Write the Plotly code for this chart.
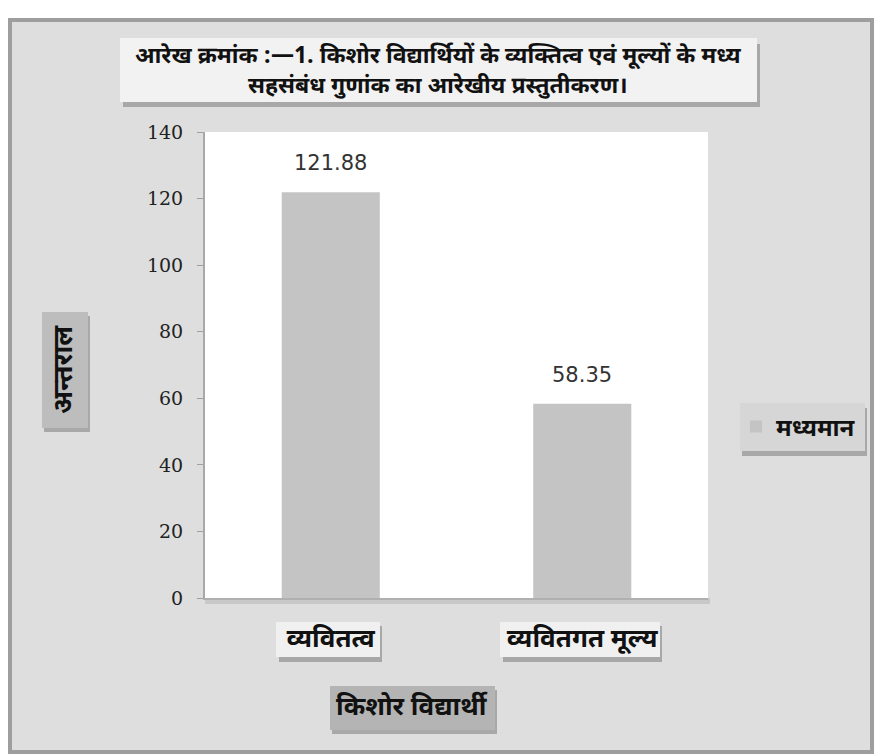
import plotly.graph_objects as go

categories = ["व्यवितत्व", "व्यवितगत मूल्य"]
values = [121.88, 58.35]
value_labels = ["121.88", "58.35"]
series_name = "मध्यमान"
title_text = "आरेख क्रमांक :—1. किशोर विद्यार्थियों के व्यक्तित्व एवं मूल्यों के मध्य<br>सहसंबंध गुणांक का आरेखीय प्रस्तुतीकरण।"
y_title = "अन्तराल"
x_title = "किशोर विद्यार्थी"
y_ticks = [0, 20, 40, 60, 80, 100, 120, 140]

W, H = 874, 755
L, R, T, B = 205, 708, 132, 598
DEV = "Noto Sans Devanagari, Noto Sans, Lato, sans-serif"


def px(x):
    return (x - L) / (R - L)


def py(y):
    return (B - y) / (B - T)


def rect(x0, y0, x1, y1, fill, line=None, lw=0):
    return dict(type="rect", xref="paper", yref="paper", layer="below",
                x0=px(x0), x1=px(x1), y0=py(y1), y1=py(y0),
                fillcolor=fill, line=dict(color=line or fill, width=lw))


fig = go.Figure()
fig.add_trace(go.Bar(x=categories, y=values, name=series_name,
                     marker=dict(color="#c4c4c4", line=dict(width=0)),
                     showlegend=True))

shapes = [
    rect(10, 20, 872, 752, "#dedede", "#9e9e9e", 4),
    rect(L, B, R + 2, B + 6, "#c8c8c8"),
    rect(L, T, R, B, "#ffffff"),
    # title box shadow + box
    rect(123, 44, 760, 107, "#a8a8a8"),
    rect(120, 38, 757, 102, "#f2f2f2"),
    # y-title box shadow + box
    rect(44, 316, 90, 432, "#a8a8a8"),
    rect(42, 312, 88, 428, "#bdbdbd"),
    # legend shadow + box
    rect(742, 408, 867, 456, "#a8a8a8"),
    rect(740, 403, 865, 451, "#d6d6d6"),
    # x tick label boxes
    rect(279, 626, 382, 662, "#a8a8a8"),
    rect(276, 622, 380, 657, "#f0f0f0"),
    rect(503, 626, 662, 662, "#a8a8a8"),
    rect(500, 622, 660, 657, "#f0f0f0"),
    # x title box
    rect(332, 690, 497, 734, "#a8a8a8"),
    rect(330, 686, 495, 730, "#b4b4b4"),
]

annotations = [
    dict(text=title_text, xref="paper", yref="paper", x=px(438), y=py(72),
         showarrow=False, font=dict(family=DEV, size=23, color="#111111", weight="bold"),
         align="center", xanchor="center", yanchor="middle"),
    dict(text=y_title, xref="paper", yref="paper", x=px(65), y=py(370),
         showarrow=False, textangle=-90,
         font=dict(family=DEV, size=27, color="#111111", weight="bold"),
         xanchor="center", yanchor="middle"),
    dict(text=x_title, xref="paper", yref="paper", x=px(412), y=py(708),
         showarrow=False, font=dict(family=DEV, size=26, color="#111111", weight="bold"),
         xanchor="center", yanchor="middle"),
]
for c, v, t in zip(categories, values, value_labels):
    annotations.append(dict(text=t, x=c, y=v, xref="x", yref="y", showarrow=False,
                            yshift=29, font=dict(family="DejaVu Sans", size=21, color="#333333"),
                            xanchor="center", yanchor="middle"))

fig.update_layout(
    width=W, height=H,
    margin=dict(l=L, r=W - R, t=T, b=H - B, pad=0),
    paper_bgcolor="#ffffff",
    plot_bgcolor="rgba(0,0,0,0)",
    bargap=0.61,
    shapes=shapes,
    annotations=annotations,
    showlegend=True,
    legend=dict(x=px(736), y=py(427), xanchor="left", yanchor="middle",
                bgcolor="rgba(0,0,0,0)", borderwidth=0,
                font=dict(family=DEV, size=24, color="#111111", weight="bold")),
    xaxis=dict(showline=True, linecolor="#b0b0b0", linewidth=2, ticks="",
               showgrid=False, ticklabelstandoff=16,
               tickfont=dict(family=DEV, size=26, color="#111111", weight="bold")),
    yaxis=dict(range=[0, 140], tickvals=y_ticks, showline=True, linecolor="#a8a8a8",
               linewidth=2, ticks="outside", ticklen=6, tickcolor="#a0a0a0",
               showgrid=False, zeroline=False, ticklabelstandoff=10,
               tickfont=dict(family="DejaVu Serif", size=19, color="#222222")),
)

fig.write_html("out.html")
